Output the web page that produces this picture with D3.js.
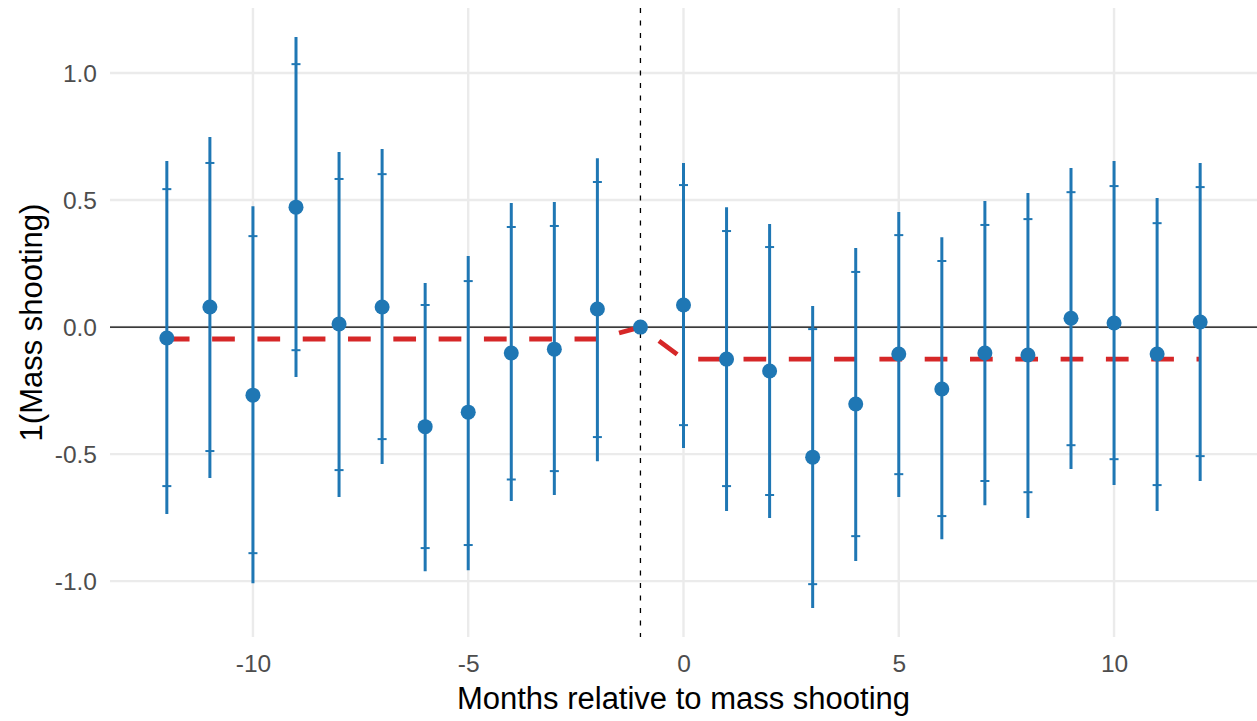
<!DOCTYPE html>
<html><head><meta charset="utf-8">
<script src="https://cdn.jsdelivr.net/npm/d3@7"></script>
<style>body{margin:0;background:#fff}svg{display:block}text{font-family:"Liberation Sans",Arial,sans-serif}</style>
</head><body><svg id="c" width="1257" height="721"></svg>
<script>
const months = [-12,-11,-10,-9,-8,-7,-6,-5,-4,-3,-2,-1,0,1,2,3,4,5,6,7,8,9,10,11,12];
const estimate = [-0.043,0.079,-0.268,0.472,0.012,0.079,-0.392,-0.335,-0.102,-0.087,0.071,0,0.087,-0.126,-0.173,-0.512,-0.303,-0.106,-0.244,-0.102,-0.110,0.035,0.016,-0.106,0.020];
const outerHi = [0.654,0.748,0.476,1.142,0.689,0.701,0.173,0.280,0.488,0.492,0.665,null,0.646,0.472,0.406,0.083,0.311,0.453,0.354,0.496,0.528,0.626,0.654,0.508,0.646];
const outerLo = [-0.736,-0.594,-1.008,-0.197,-0.669,-0.539,-0.961,-0.957,-0.685,-0.661,-0.528,null,-0.476,-0.724,-0.752,-1.106,-0.921,-0.669,-0.835,-0.701,-0.752,-0.559,-0.622,-0.724,-0.606];
const innerHi = [0.543,0.646,0.358,1.035,0.583,0.602,0.087,0.181,0.394,0.398,0.571,null,0.559,0.378,0.315,-0.008,0.217,0.362,0.260,0.402,0.425,0.531,0.555,0.409,0.551];
const innerLo = [-0.626,-0.488,-0.890,-0.091,-0.563,-0.441,-0.870,-0.858,-0.600,-0.567,-0.433,null,-0.386,-0.626,-0.661,-1.012,-0.823,-0.579,-0.744,-0.606,-0.650,-0.465,-0.520,-0.622,-0.508];
const trend = [-0.047,-0.047,-0.047,-0.047,-0.047,-0.047,-0.047,-0.047,-0.047,-0.047,-0.047,0,-0.126,-0.126,-0.126,-0.126,-0.126,-0.126,-0.126,-0.126,-0.126,-0.126,-0.126,-0.126,-0.126];
const xTicks = [-10,-5,0,5,10];
const yTicks = [-1.0,-0.5,0.0,0.5,1.0];
const xLabel = "Months relative to mass shooting";
const yLabel = "1(Mass shooting)";
const eventMonth = -1;

const svg = d3.select("#c");
const L=110, R=1257, T=8, B=637;
const x = d3.scaleLinear().domain([-13.32,13.32]).range([L,R]);
const y = d3.scaleLinear().domain([-1.220,1.256]).range([B,T]);
const blue = "#1f77b4", red = "#d62728";

// grid
const g = svg.append("g");
g.selectAll(".gy").data(yTicks).join("line")
  .attr("x1",L).attr("x2",R).attr("y1",d=>y(d)).attr("y2",d=>y(d))
  .attr("stroke","#ebebeb").attr("stroke-width",2.4);
g.selectAll(".gx").data(xTicks).join("line")
  .attr("y1",T).attr("y2",B).attr("x1",d=>x(d)).attr("x2",d=>x(d))
  .attr("stroke","#ebebeb").attr("stroke-width",2.4);

// axes labels via d3 axes
const xAxis = svg.append("g").attr("transform",`translate(0,${B})`)
  .call(d3.axisBottom(x).tickValues(xTicks).tickSize(0).tickPadding(35).tickFormat(d3.format("d")));
xAxis.select(".domain").remove();
xAxis.selectAll("text").attr("font-size",24.5).attr("fill","#4d4d4d").attr("dy",0)
  .attr("font-family","Liberation Sans, Arial, sans-serif")
  .text(d=>String(d));
const yAxis = svg.append("g").attr("transform",`translate(${L},0)`)
  .call(d3.axisLeft(y).tickValues(yTicks).tickSize(0).tickPadding(13).tickFormat(d3.format(".1f")));
yAxis.select(".domain").remove();
yAxis.selectAll("text").attr("font-size",24.5).attr("fill","#4d4d4d").attr("dy","0.36em")
  .attr("font-family","Liberation Sans, Arial, sans-serif")
  .text(d=>d3.format(".1f")(d).replace("−","-"));

// zero line
svg.append("line").attr("x1",L).attr("x2",R).attr("y1",y(0)).attr("y2",y(0))
  .attr("stroke","#000").attr("stroke-width",1.3);
// event line
svg.append("line").attr("x1",x(eventMonth)).attr("x2",x(eventMonth)).attr("y1",T).attr("y2",B)
  .attr("stroke","#000").attr("stroke-width",1.3).attr("stroke-dasharray","5,7.5");

// trend
const pts = months.map((m,i)=>[m,trend[i]]);
svg.append("path").attr("d",d3.line().x(d=>x(d[0])).y(d=>y(d[1]))(pts))
  .attr("fill","none").attr("stroke",red).attr("stroke-width",4.8).attr("stroke-dasharray","22.7,22.6");

// error bars
const data = months.map((m,i)=>({m,e:estimate[i],oh:outerHi[i],ol:outerLo[i],ih:innerHi[i],il:innerLo[i]}));
const ci = data.filter(d=>d.oh!==null);
svg.selectAll(".ob").data(ci).join("line")
  .attr("x1",d=>x(d.m)).attr("x2",d=>x(d.m)).attr("y1",d=>y(d.oh)).attr("y2",d=>y(d.ol))
  .attr("stroke",blue).attr("stroke-width",3);
["ih","il"].forEach(k=>{
  svg.selectAll(".t"+k).data(ci).join("line")
    .attr("x1",d=>x(d.m)-4.5).attr("x2",d=>x(d.m)+4.5).attr("y1",d=>y(d[k])).attr("y2",d=>y(d[k]))
    .attr("stroke",blue).attr("stroke-width",2);
});
svg.selectAll(".pt").data(data).join("circle")
  .attr("cx",d=>x(d.m)).attr("cy",d=>y(d.e)).attr("r",7.5).attr("fill",blue);

// titles
svg.append("text").attr("x",(L+R)/2).attr("y",709).attr("text-anchor","middle")
  .attr("font-size",31).attr("fill","#000").text(xLabel);
svg.append("text").attr("transform",`translate(42,${(T+B)/2}) rotate(-90)`).attr("text-anchor","middle")
  .attr("font-size",31).attr("fill","#000").text(yLabel);
</script></body></html>
